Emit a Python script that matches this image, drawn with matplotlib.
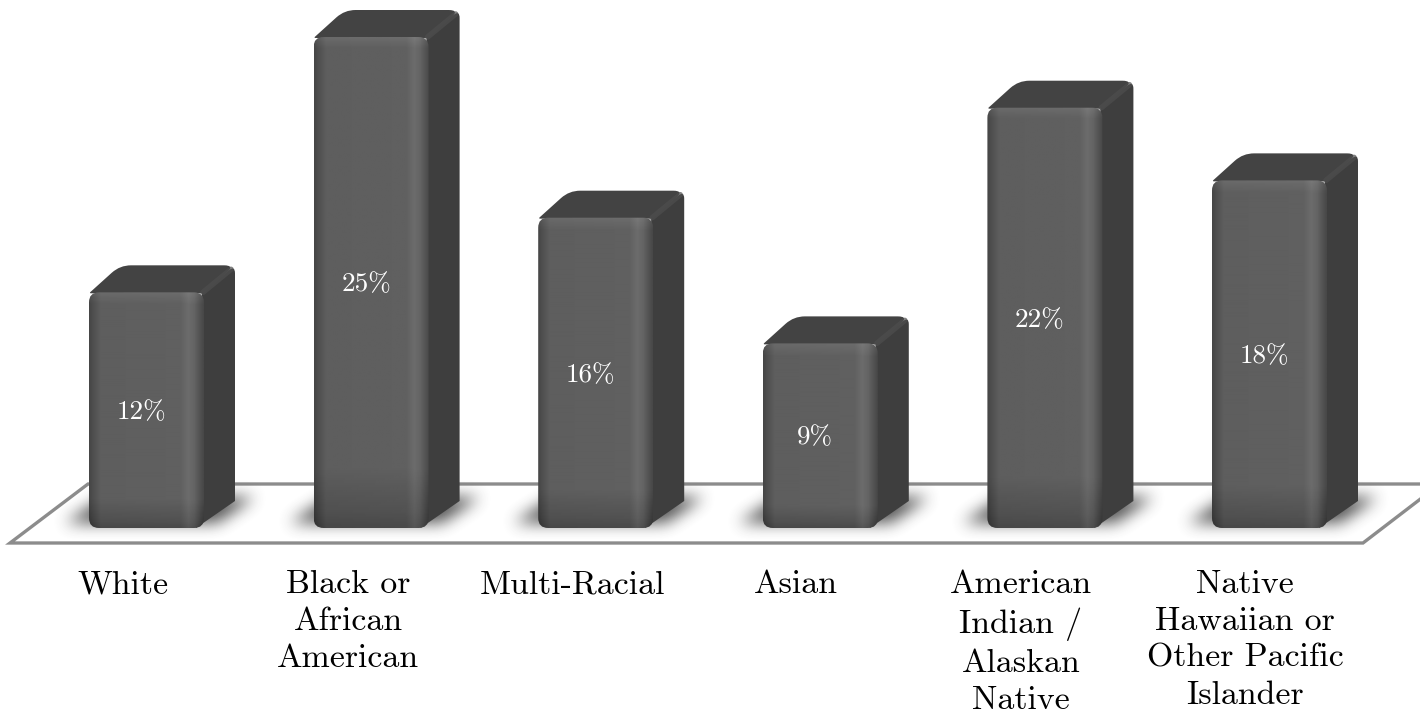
import numpy as np
import matplotlib
matplotlib.use("Agg")
import matplotlib.pyplot as plt
from matplotlib.patches import FancyBboxPatch, PathPatch, Polygon
from matplotlib.path import Path
from matplotlib.colors import LinearSegmentedColormap

categories = ["White", "Black or\nAfrican\nAmerican", "Multi-Racial", "Asian",
              "American\nIndian /\nAlaskan\nNative", "Native\nHawaiian or\nOther Pacific\nIslander"]
heights = [12.0, 25.0, 15.8, 9.4, 21.4, 17.7]
value_labels = ["12%", "25%", "16%", "9%", "22%", "18%"]

plt.rcParams['font.family'] = ['cmr10', 'DejaVu Serif']
plt.rcParams['axes.unicode_minus'] = False

W, H = 1420, 714
# pixels per unit
sx = 224.6
sy = 19.64
x0_px = 146.5
y0_px = 528

fig = plt.figure(figsize=(W / 100, H / 100), dpi=100)
ax = fig.add_axes([0, 0, 1, 1])
ax.set_xlim(-x0_px / sx, (W - x0_px) / sx)
ax.set_ylim(-(H - y0_px) / sy, y0_px / sy)
ax.axis("off")

bar_w = 115 / sx
dx = 31 / sx
dy = 27 / sy


def px(x, y):
    # pixel position to data position
    return (x - x0_px) / sx, (y0_px - y) / sy


def rounded(points, radii):
    # closed polygon with rounded corners, worked out in pixel scale
    pts = [np.array([p[0] * sx, p[1] * sy]) for p in points]
    verts, codes = [], []
    n = len(pts)
    for i in range(n):
        p, a, b = pts[i], pts[i - 1], pts[(i + 1) % n]
        r = radii[i]
        if r == 0:
            start, end = p, p
        else:
            start = p + (a - p) / np.linalg.norm(a - p) * r
            end = p + (b - p) / np.linalg.norm(b - p) * r
        verts.append(start)
        codes.append(Path.MOVETO if i == 0 else Path.LINETO)
        verts += [p, end]
        codes += [Path.CURVE3, Path.CURVE3]
    verts.append(verts[0])
    codes.append(Path.CLOSEPOLY)
    verts = np.array(verts) / np.array([sx, sy])
    return Path(verts, codes)


def blur(a, size, passes=3):
    # repeated box blur along both directions
    k = np.ones(size) / size
    for _ in range(passes):
        a = np.apply_along_axis(lambda r: np.convolve(r, k, mode="same"), 0, a)
        a = np.apply_along_axis(lambda r: np.convolve(r, k, mode="same"), 1, a)
    return a


# floor
floor = [px(10, 543), px(88, 484), px(1440, 484), px(1363, 543)]
ax.add_patch(Polygon(floor, closed=True, facecolor="white", edgecolor="#8c8c8c", lw=2.4, zorder=1))

# shadow mask, in pixels around one bar (offsets from bar left / base)
gx, gy = np.meshgrid(np.arange(-70, 230), np.arange(-60, 30))
shadow_shape = Path([(-24, -6), (16, -32), (166, -32), (128, -6), (-24, -6)])
mask = shadow_shape.contains_points(np.c_[gx.ravel(), gy.ravel()]).reshape(gx.shape).astype(float)
mask = blur(mask, 15)
shadow_cmap = LinearSegmentedColormap.from_list("sh", [(0.25, 0.25, 0.25, 0), (0.25, 0.25, 0.25, 0.9)])

# horizontal / vertical shading of the front face
prof_x = np.interp(np.linspace(0, 1, 115),
                   [0, 0.03, 0.10, 0.80, 0.87, 0.92, 0.97, 1],
                   [70, 78, 94, 96, 108, 100, 82, 72])
prof_y = np.interp(np.linspace(0, 1, 200), [0, 0.88, 0.97, 1], [0, 0, -14, -22])


for i, (h, lab) in enumerate(zip(heights, value_labels)):
    left = i - bar_w / 2
    right = i + bar_w / 2

    # soft shadow on the floor
    ax.imshow(mask, cmap=shadow_cmap, vmin=0, vmax=1, aspect="auto", interpolation="bilinear", zorder=2,
              extent=(left - 70 / sx, left + 230 / sx, -30 / sy, 60 / sy))

    # side face
    side = [(right - 2 / sx, h), (right + dx, h + dy), (right + dx, dy), (right - 8 / sx, -0.0)]
    ax.add_patch(PathPatch(rounded(side, [0, 8, 0, 0]), facecolor="#3e3e3e", edgecolor="none", zorder=3))

    # top face
    top = [(left, h - 0.05), (left + dx, h + dy), (right + dx, h + dy), (right, h - 0.05)]
    ax.add_patch(PathPatch(rounded(top, [2, 11, 11, 2]), facecolor="#434343", edgecolor="none", zorder=3))
    ax.plot([right - 1 / sx, right + dx - 4 / sx], [h, h + dy - 4 / sy], color="#4e4e4e", lw=4,
            solid_capstyle="round", alpha=0.7, zorder=3.1)

    # front face
    box = FancyBboxPatch((left, 0), bar_w, h, boxstyle="round,pad=0,rounding_size=%f" % (10 / sx),
                         mutation_aspect=sx / sy, facecolor="none", edgecolor="none", zorder=4)
    ax.add_patch(box)
    py = prof_y.copy()
    n_top = int(200 * 14 / (h * sy))
    py[:n_top] += np.linspace(12, 0, n_top)
    shade = np.clip(prof_x[None, :] + py[:, None], 0, 255) / 255
    im = ax.imshow(shade, cmap="gray", vmin=0, vmax=1, extent=(left, right, 0, h),
                   aspect="auto", interpolation="bilinear", zorder=4.5)
    im.set_clip_path(box)

    # value label
    ax.text(i - 5 / sx, h / 2 - 2 / sy, lab, color="white", fontsize=19.5, ha="center", va="center", zorder=6)

ax.set_xlim(-x0_px / sx, (W - x0_px) / sx)
ax.set_ylim(-(H - y0_px) / sy, y0_px / sy)

# category labels, centres in pixels
label_centres = [123, 348, 572, 796, 1021, 1245]
for c, name in zip(label_centres, categories):
    lx, ly = px(c, 570)
    ax.text(lx, ly, name, color="black", fontsize=24.4, ha="center", va="top", linespacing=1.34, zorder=6)

fig.savefig("out.png", dpi=100)
